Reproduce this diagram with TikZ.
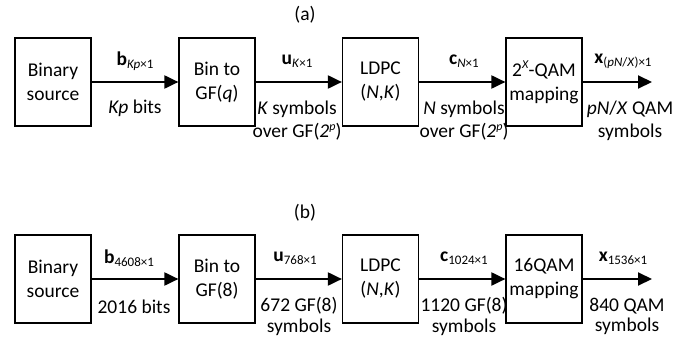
\documentclass[tikz,border=0pt]{standalone}
\usepackage{fontspec}
\setmainfont{Carlito}
\usetikzlibrary{arrows.meta}
% small lowered / raised text for vector sizes and exponents
\newcommand{\lowtxt}[1]{\raisebox{-0.35ex}{\fontsize{13}{13}\selectfont #1}}
\newcommand{\hightxt}[1]{\raisebox{0.85ex}{\fontsize{12}{12}\selectfont #1}}
\begin{document}
\begin{tikzpicture}[x=1pt,y=-1pt,
  block/.style={draw, line width=1.2pt, minimum width=76pt, minimum height=88pt,
    align=center, inner sep=0pt, font=\fontsize{19.5}{24}\selectfont},
  link/.style={line width=2pt, -{Triangle[length=14pt,width=13pt]}},
  lbl/.style={align=center, inner sep=0pt, font=\fontsize{19.5}{23}\selectfont},
  lbltight/.style={lbl, font=\fontsize{19.5}{20.5}\selectfont}]
\useasboundingbox (0,0) rectangle (682,337);

% ---- (a) general chain ----
\node[lbl] (ta) at (305,15) {(a)};
\node[block] (a1) at (53,82)    {Binary\\source};
\node[block] (a2) at (217,82)   {Bin to\\GF(\textit{q})};
\node[block] (a3) at (380.5,82) {LDPC\\(\textit{N},\textit{K})};
\node[block] (a4) at (544,82)   {2\hightxt{\textit{X}}-QAM\\mapping};
\coordinate (aend) at (652,82);
\draw[link] (a1) -- (a2);
\draw[link] (a2) -- (a3);
\draw[link] (a3) -- (a4);
\draw[link] (a4) -- (aend);

\node[lbl] (ab) at (135,61) {\textbf{b}\lowtxt{\textit{Kp}×1}};
\node[lbl] (au) at (297,61) {\textbf{u}\lowtxt{\textit{K}×1}};
\node[lbl] (ac) at (464,61) {\textbf{c}\lowtxt{\textit{N}×1}};
\node[lbl] (ax) at (623,61) {\textbf{x}\lowtxt{(\textit{pN}/\textit{X})×1}};

\node[lbl] (abits) at (135,108) {\textit{Kp} bits};
\node[lbl] (asymk) at (297,121) {\textit{K} symbols\\over GF(\textit{2}\hightxt{\textit{p}})};
\node[lbl] (asymn) at (464,121) {\textit{N} symbols\\over GF(\textit{2}\hightxt{\textit{p}})};
\node[lbl] (aqam)  at (630,121) {\textit{pN}/\textit{X} QAM\\symbols};

% ---- (b) numeric example ----
\node[lbl] (tb) at (305,213) {(b)};
\node[block] (b1) at (53,279)    {Binary\\source};
\node[block] (b2) at (217,279)   {Bin to\\GF(8)};
\node[block] (b3) at (380.5,279) {LDPC\\(\textit{N},\textit{K})};
\node[block] (b4) at (544,279)   {16QAM\\mapping};
\coordinate (bend) at (652,279);
\draw[link] (b1) -- (b2);
\draw[link] (b2) -- (b3);
\draw[link] (b3) -- (b4);
\draw[link] (b4) -- (bend);

\node[lbl] (bb) at (129,258) {\textbf{b}\lowtxt{4608×1}};
\node[lbl] (bu) at (295,258) {\textbf{u}\lowtxt{768×1}};
\node[lbl] (bc) at (464,258) {\textbf{c}\lowtxt{1024×1}};
\node[lbl] (bx) at (623,258) {\textbf{x}\lowtxt{1536×1}};

\node[lbl] (bbits) at (134,307) {2016 bits};
\node[lbltight] (bsym8) at (299,316.5) {672 GF(8)\\symbols};
\node[lbltight] (bsymc) at (464,316.5) {1120 GF(8)\\symbols};
\node[lbltight] (bqam)  at (627,316.5) {840 QAM\\symbols};
\end{tikzpicture}
\end{document}
